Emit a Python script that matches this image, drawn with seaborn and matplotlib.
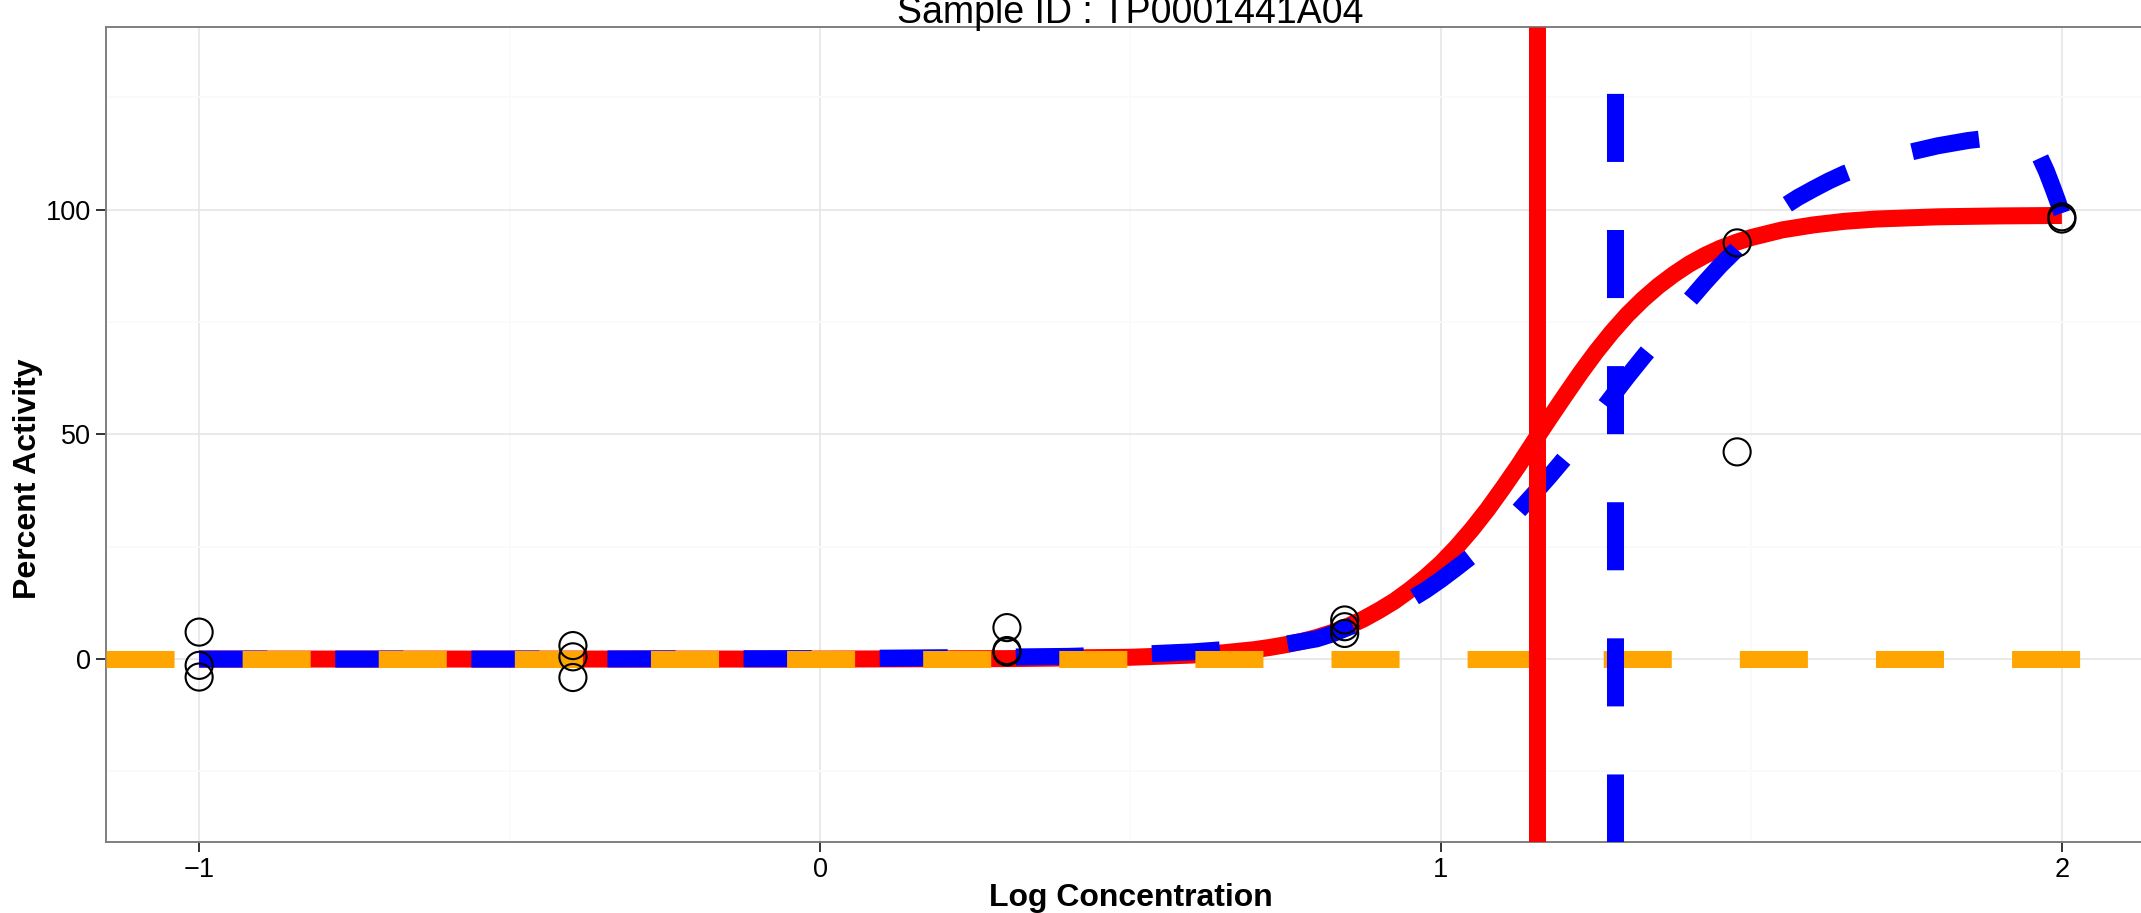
import matplotlib
matplotlib.use('Agg')
import matplotlib.pyplot as plt
import seaborn as sns

# observed points (log concentration, percent activity)
pt_x = [-1.0, -1.0, -1.0, -0.398, -0.398, -0.398, 0.301, 0.301, 0.301,
        0.845, 0.845, 0.845, 1.477, 1.477, 2.0, 2.0]
pt_y = [6.0, -1.4, -4.0, 3.0, 0.5, -4.1, 7.0, 1.9, 1.6,
        8.7, 7.2, 5.7, 92.6, 46.1, 98.4, 97.9]

# red fitted curve
red_x = [-1.0, -0.5, 0.0, 0.3, 0.5, 0.6, 0.65, 0.7, 0.725, 0.75, 0.775, 0.8,
         0.825, 0.85, 0.875, 0.9, 0.925, 0.95, 0.975, 1.0, 1.025, 1.05, 1.075,
         1.1, 1.125, 1.15, 1.175, 1.2, 1.225, 1.25, 1.275, 1.3, 1.325, 1.35,
         1.375, 1.4, 1.425, 1.45, 1.475, 1.5, 1.55, 1.6, 1.65, 1.7, 1.8, 1.9, 2.0]
red_y = [0.0, 0.0, 0.0, 0.1, 0.4, 0.9, 1.4, 2.1, 2.6, 3.2, 3.9, 4.8,
         5.9, 7.3, 8.9, 10.8, 12.9, 15.4, 18.2, 21.3, 24.9, 28.9, 33.3,
         38.1, 43.1, 48.4, 53.6, 58.7, 63.7, 68.4, 72.7, 76.6, 80.0, 83.0,
         85.6, 87.9, 89.8, 91.4, 92.7, 93.8, 95.5, 96.6, 97.4, 97.9, 98.4, 98.6, 98.7]

# blue dashed fitted curve
blue_x = [-1.0, -0.5, 0.0, 0.2, 0.4, 0.5, 0.6, 0.7, 0.75, 0.8, 0.825, 0.85,
          0.875, 0.9, 0.925, 0.95, 0.975, 1.0, 1.025, 1.05, 1.075, 1.1, 1.125,
          1.15, 1.175, 1.2, 1.225, 1.25, 1.275, 1.3, 1.325, 1.35, 1.375, 1.4,
          1.425, 1.45, 1.475, 1.5, 1.525, 1.55, 1.575, 1.6, 1.625, 1.65, 1.7,
          1.75, 1.8, 1.85, 1.875, 1.9, 1.92, 1.94, 1.955, 1.965, 1.975, 1.985,
          1.993, 2.0]
blue_y = [0.0, 0.0, 0.1, 0.3, 0.6, 1.0, 1.6, 2.6, 3.3, 4.5, 5.6, 7.0,
          8.5, 10.0, 11.6, 13.2, 15.3, 17.7, 20.3, 23.0, 26.2, 29.4, 33.0,
          36.8, 40.7, 44.8, 49.2, 53.8, 58.3, 62.8, 67.1, 71.3, 75.6, 79.8,
          83.8, 87.6, 91.0, 95.0, 97.9, 100.5, 102.7, 104.6, 106.4, 108.0, 110.6,
          112.6, 114.2, 115.4, 115.8, 116.0, 115.7, 114.7, 113.3, 111.6, 108.6, 105.0,
          102.0, 99.2]

red_ic50 = 1.155
blue_ic50 = 1.28
baseline = 0

title = 'Sample ID : TP0001441A04'

sns.set_theme(style='white')
plt.rcParams['font.family'] = ['Liberation Sans', 'DejaVu Sans']
plt.rcParams['text.color'] = 'black'

W, H = 2141, 913
fig = plt.figure(figsize=(W / 100, H / 100), dpi=100)
ax = fig.add_axes([106 / W, (H - 842) / H, (2155 - 106) / W, (842 - 26.7) / H])

lw = 12.25
dash = (0, (4, 4))

sns.lineplot(x=red_x, y=red_y, color='#FF0000', lw=lw, ax=ax, zorder=3,
             solid_capstyle='butt', solid_joinstyle='round')
sns.lineplot(x=blue_x, y=blue_y, color='#0000FF', lw=lw, ax=ax, zorder=4,
             linestyle=dash, dash_joinstyle='round')
ax.axhline(baseline, color='#FFA500', lw=lw, linestyle=dash, zorder=5)
ax.axvline(red_ic50, color='#FF0000', lw=lw, zorder=6, solid_capstyle='butt')
ax.axvline(blue_ic50, color='#0000FF', lw=lw, linestyle=dash, zorder=7)
sns.scatterplot(x=pt_x, y=pt_y, s=380, facecolor='none', edgecolor='black',
                linewidth=1.5, ax=ax, zorder=8)

ax.set_xlim(-1.15, 2.15)
ax.set_ylim(-40.7, 140.7)
ax.set_xticks([-1, 0, 1, 2])
ax.set_xticklabels(['\u22121', '0', '1', '2'])
ax.set_yticks([0, 50, 100])
ax.set_xticks([-0.5, 0.5, 1.5], minor=True)
ax.set_yticks([-25, 25, 75, 125], minor=True)

ax.grid(which='major', color='#E5E5E5', lw=1.2)
ax.grid(which='minor', color='#FAFAFA', lw=1.2)
ax.set_axisbelow(True)

for s in ax.spines.values():
    s.set_color('#7F7F7F')
    s.set_linewidth(1.4)

ax.tick_params(which='major', direction='out', length=7.5, width=1.4,
               color='#333333', labelsize=19.5, labelcolor='black', pad=3,
               bottom=True, left=True)
ax.tick_params(which='minor', length=0)
ax.set_xlabel('')
ax.set_ylabel('')

fig.text(1130.5 / W, 1 - 22.7 / H, title, ha='center', va='baseline',
         fontsize=27, color='black')
fig.text(1130.5 / W, 1 - 905.8 / H, 'Log Concentration', ha='center',
         va='baseline', fontsize=23, fontweight='bold', color='black')
fig.text(28 / W, 434 / H, 'Percent Activity', ha='center', va='center',
         rotation=90, fontsize=23, fontweight='bold', color='black')

fig.savefig('out.png', dpi=100)
